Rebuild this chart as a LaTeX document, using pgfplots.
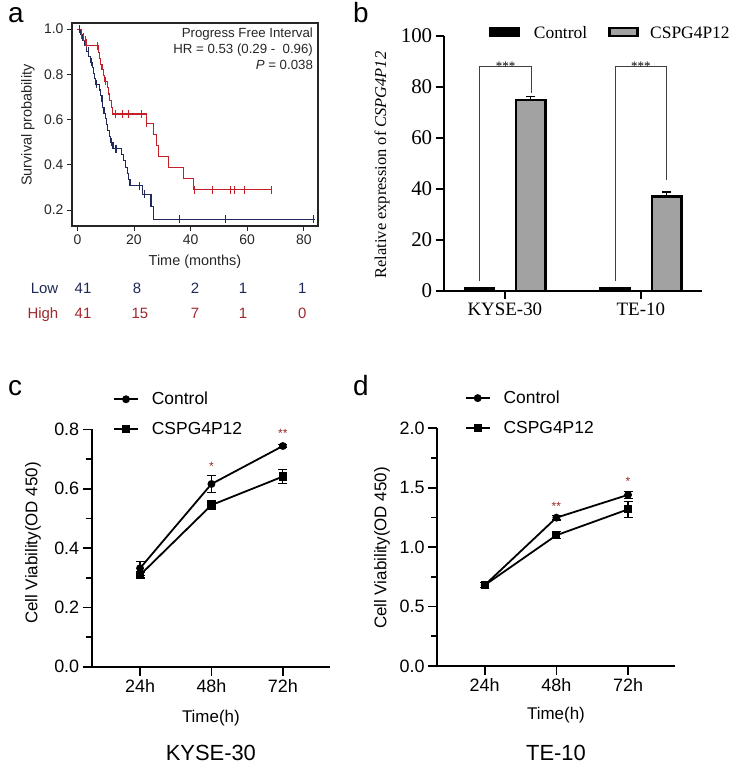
\documentclass[border=0pt]{standalone}
\usepackage{pgfplots}
\pgfplotsset{compat=1.18}
\usepackage{fontspec}
\setmainfont{Liberation Sans}
\newfontfamily\tnr{Liberation Serif}
\definecolor{kmred}{RGB}{196,32,40}
\definecolor{kmblue}{RGB}{32,42,92}
\definecolor{lowtxt}{RGB}{30,40,85}
\definecolor{hightxt}{RGB}{160,40,45}
\definecolor{barfill}{RGB}{162,162,162}
\definecolor{starred}{RGB}{150,35,35}
\newcommand{\fs}[1]{\fontsize{#1}{#1}\selectfont}

\begin{document}
\begin{tikzpicture}[x=1bp,y=1bp]
\path (0,0) rectangle (744,773);

% ---------- a: Kaplan-Meier
\begin{axis}[at={(72bp,547bp)}, anchor=south west, scale only axis,
  width=246bp, height=203bp, clip=false,
  xmin=-1.9, xmax=85, ymin=0.13, ymax=1.027,
  xtick={0,20,40,60,80}, ytick={0.2,0.4,0.6,0.8,1.0},
  yticklabel style={/pgf/number format/.cd,fixed,fixed zerofill,precision=1},
  /pgf/number format/assume math mode=true,
  tick align=outside, tick pos=left, major tick length=5bp,
  axis line style={line width=1.3bp, black!85},
  every tick/.style={black!85, line width=0.9bp},
  tick label style={font=\fs{14}, black!85},
  xlabel={Time (months)}, ylabel={Survival probability},
  label style={font=\fs{14.5}, black!85},
  xlabel style={at={(axis description cs:0.5,-0.177)}, anchor=center},
  ylabel style={at={(axis description cs:-0.179,0.497)}, anchor=center},
]
\addplot[const plot, kmblue, line width=1.1bp] coordinates {
 (0,1.0) (1.2,0.976) (1.8,0.951) (2.5,0.927) (3.2,0.902) (4.0,0.878)
 (4.6,0.854) (5.3,0.829) (5.8,0.805) (6.2,0.780) (6.5,0.756) (7.8,0.731)
 (8.2,0.705) (8.7,0.680) (9.0,0.654) (9.4,0.628) (9.8,0.603) (10.3,0.577)
 (10.7,0.551) (11.2,0.525) (11.8,0.499) (12.6,0.472) (15.5,0.445)
 (16.4,0.418) (17.0,0.390) (17.6,0.363) (18.2,0.335) (18.6,0.308)
 (23.0,0.270) (26.0,0.215) (27.0,0.160) (84,0.160)};
\addplot[only marks, mark=|, mark size=4bp, kmblue, mark options={line width=0.9bp}] coordinates {
 (0.8,1.0) (3.8,0.902) (4.8,0.854) (6.8,0.756) (12.2,0.499) (13.3,0.472)
 (13.9,0.472) (21.9,0.308) (23.7,0.270) (36,0.160) (52.4,0.160) (83.3,0.160)};
\addplot[const plot, kmred, line width=1.1bp] coordinates {
 (0,1.0) (1.5,0.976) (2.2,0.951) (3.0,0.927) (7.5,0.895) (7.8,0.870)
 (8.3,0.845) (8.7,0.820) (9.2,0.795) (9.6,0.770) (10.5,0.742) (11.0,0.713)
 (11.5,0.684) (12.0,0.655) (12.3,0.625) (24.5,0.583) (26.9,0.535)
 (27.8,0.487) (28.6,0.437) (32.2,0.388) (37.5,0.340) (41.0,0.291) (68.5,0.291)};
\addplot[only marks, mark=|, mark size=4bp, kmred, mark options={line width=0.9bp}] coordinates {
 (1.5,0.976) (2.2,0.965) (2.7,0.951) (3.2,0.940) (7.0,0.927) (9.8,0.770)
 (13.3,0.625) (15.8,0.625) (18,0.625) (22.8,0.625) (24.5,0.583)
 (41.3,0.291) (47.8,0.291) (54,0.291) (55.4,0.291) (58.9,0.291) (68.5,0.291)};
\node[anchor=north east, align=right, inner sep=0pt, font=\fontsize{13.3}{16}\selectfont, black!85]
  at (axis description cs:0.98,0.977)
  {Progress Free Interval\\HR = 0.53 (0.29 -\ \ 0.96)\\\textit{P} = 0.038};
\begin{scope}[font=\fs{15}]
\node[lowtxt, anchor=base east] at (axis cs:-5.5,-0.17) {Low};
\node[hightxt, anchor=base east] at (axis cs:-5.5,-0.28) {High};
\node[lowtxt, anchor=base] at (axis cs:2,-0.17) {41};
\node[lowtxt, anchor=base] at (axis cs:21.1,-0.17) {8};
\node[lowtxt, anchor=base] at (axis cs:41.6,-0.17) {2};
\node[lowtxt, anchor=base] at (axis cs:58.5,-0.17) {1};
\node[lowtxt, anchor=base] at (axis cs:79.4,-0.17) {1};
\node[hightxt, anchor=base] at (axis cs:2,-0.28) {41};
\node[hightxt, anchor=base] at (axis cs:22.1,-0.28) {15};
\node[hightxt, anchor=base] at (axis cs:41.6,-0.28) {7};
\node[hightxt, anchor=base] at (axis cs:58.5,-0.28) {1};
\node[hightxt, anchor=base] at (axis cs:79.4,-0.28) {0};
\end{scope}
\end{axis}

% ---------- b: bars
\begin{axis}[at={(443.7bp,482bp)}, anchor=south west, scale only axis,
  width=258.3bp, height=255bp, clip=false,
  xmin=-0.45, xmax=1.45, ymin=0, ymax=100,
  axis x line*=bottom, axis y line*=left,
  axis line style={-, line width=2.2bp},
  ybar, bar width=0.215,
  xtick={0,1}, xticklabels={KYSE-30,TE-10},
  ytick={0,20,40,60,80,100},
  tick align=outside, major tick length=8bp,
  every tick/.style={black, line width=2.2bp},
  xticklabel style={font=\tnr\fs{19}},
  yticklabel style={font=\tnr\fs{21}},
  /pgf/number format/assume math mode=true,
  ylabel={Relative expression of \textit{CSPG4P12}},
  ylabel style={font=\tnr\fs{16.5}, at={(axis description cs:-0.239,0.494)}, anchor=center},
]
\addplot[fill=black, draw=black, line width=2.6bp, bar shift=-0.187,
  error bars/.cd, y dir=plus, y explicit,
  error bar style={line width=1.4bp, black},
  error mark options={rotate=90, mark size=4.5bp, line width=1.4bp, black}]
  coordinates {(0,0.9) +- (0,0.4) (1,0.9) +- (0,0.4)};
\addplot[fill=barfill, draw=black, line width=2.6bp, bar shift=0.19,
  error bars/.cd, y dir=plus, y explicit,
  error bar style={line width=1.4bp, black},
  error mark options={rotate=90, mark size=4.5bp, line width=1.4bp, black}]
  coordinates {(0,74.9) +- (0,1.3) (1,37.0) +- (0,1.8)};
\draw[line width=0.9bp, black!75] (axis cs:-0.187,4) |- (axis cs:0.197,88.2) -- (axis cs:0.197,77.6);
\draw[line width=0.9bp, black!75] (axis cs:0.813,4) |- (axis cs:1.19,88.2) -- (axis cs:1.19,43.5);
\node[font=\tnr\fs{13}, anchor=base] at (axis cs:0.005,86.6) {***};
\node[font=\tnr\fs{13}, anchor=base] at (axis cs:1.0,86.6) {***};
\end{axis}
\fill[black] (488.7,735.7) rectangle (520.3,746.3);
\node[anchor=base west, inner sep=0pt, font=\tnr\fs{17.5}] at (533.7,734.7) {Control};
\draw[fill=barfill, line width=2.5bp] (609.5,737) rectangle (637.5,745);
\node[anchor=base west, inner sep=0pt, font=\tnr\fs{17.5}] at (650,734.7) {CSPG4P12};

% ---------- c: KYSE-30 viability
\begin{axis}[at={(91.7bp,106.3bp)}, anchor=south west, scale only axis,
  width=238.3bp, height=237.3bp, clip=false,
  xmin=0.323, xmax=3.66, ymin=0, ymax=0.8,
  axis x line*=bottom, axis y line*=left, axis line style={-, line width=1.7bp},
  xtick={1,2,3}, xticklabels={24h,48h,72h},
  ytick={0,0.2,0.4,0.6,0.8}, minor y tick num=1,
  yticklabel style={/pgf/number format/.cd,fixed,fixed zerofill,precision=1},
  /pgf/number format/assume math mode=true,
  tick align=outside, major tick length=9bp, minor tick length=6bp,
  every tick/.style={black, line width=1.7bp},
  tick label style={font=\fs{18}},
  xlabel={Time(h)}, ylabel={Cell Viability(OD 450)},
  label style={font=\fs{17}},
  xlabel style={at={(axis description cs:0.5,-0.215)}, anchor=center},
  ylabel style={at={(axis description cs:-0.246,0.521)}, anchor=center},
  legend cell align=left,
  legend style={draw=none, fill=none, at={(axis description cs:0.089,1.0645)}, anchor=west,
    inner xsep=0pt, inner ysep=0pt, row sep=16bp, font=\fs{17.5}, nodes={inner sep=0pt},
    /tikz/every odd column/.append style={column sep=13bp}},
  legend image code/.code={\draw[mark repeat=2,mark phase=2,#1] plot coordinates {(0bp,0bp) (12bp,0bp) (24bp,0bp)};},
]
\addplot[black, line width=1.8bp, mark=*, mark size=3bp,
  error bars/.cd, y dir=both, y explicit, error bar style={line width=1.2bp},
  error mark options={rotate=90, mark size=4.5bp, line width=1.2bp}]
  coordinates {(1,0.332) +- (0,0.024) (2,0.616) +- (0,0.028) (3,0.744) +- (0,0.006)};
\addlegendentry{Control}
\addplot[black, line width=1.8bp, mark=square*, mark size=3.2bp,
  error bars/.cd, y dir=both, y explicit, error bar style={line width=1.2bp},
  error mark options={rotate=90, mark size=4.5bp, line width=1.2bp}]
  coordinates {(1,0.309) +- (0,0.010) (2,0.545) +- (0,0.015) (3,0.641) +- (0,0.024)};
\addlegendentry{CSPG4P12}
\node[font=\fs{12}, starred, anchor=base] at (axis cs:2,0.662) {*};
\node[font=\fs{12}, starred, anchor=base] at (axis cs:3,0.774) {**};
\node[font=\fs{22}] at (axis description cs:0.5,-0.362) {KYSE-30};
\end{axis}

% ---------- d: TE-10 viability
\begin{axis}[at={(437bp,107bp)}, anchor=south west, scale only axis,
  width=238bp, height=237.7bp, clip=false,
  xmin=0.335, xmax=3.655, ymin=0, ymax=2,
  axis x line*=bottom, axis y line*=left, axis line style={-, line width=1.7bp},
  xtick={1,2,3}, xticklabels={24h,48h,72h},
  ytick={0,0.5,1.0,1.5,2.0}, minor y tick num=1,
  yticklabel style={/pgf/number format/.cd,fixed,fixed zerofill,precision=1},
  /pgf/number format/assume math mode=true,
  tick align=outside, major tick length=9bp, minor tick length=6bp,
  every tick/.style={black, line width=1.7bp},
  tick label style={font=\fs{18}},
  xlabel={Time(h)}, ylabel={Cell Viability(OD 450)},
  label style={font=\fs{17}},
  xlabel style={at={(axis description cs:0.5,-0.206)}, anchor=center},
  ylabel style={at={(axis description cs:-0.231,0.496)}, anchor=center},
  legend cell align=left,
  legend style={draw=none, fill=none, at={(axis description cs:0.116,1.0645)}, anchor=west,
    inner xsep=0pt, inner ysep=0pt, row sep=16bp, font=\fs{17.5}, nodes={inner sep=0pt},
    /tikz/every odd column/.append style={column sep=13bp}},
  legend image code/.code={\draw[mark repeat=2,mark phase=2,#1] plot coordinates {(0bp,0bp) (12bp,0bp) (24bp,0bp)};},
]
\addplot[black, line width=1.8bp, mark=*, mark size=3bp,
  error bars/.cd, y dir=both, y explicit, error bar style={line width=1.2bp},
  error mark options={rotate=90, mark size=4.5bp, line width=1.2bp}]
  coordinates {(1,0.68) +- (0,0.02) (2,1.248) +- (0,0.02) (3,1.44) +- (0,0.03)};
\addlegendentry{Control}
\addplot[black, line width=1.8bp, mark=square*, mark size=3.2bp,
  error bars/.cd, y dir=both, y explicit, error bar style={line width=1.2bp},
  error mark options={rotate=90, mark size=4.5bp, line width=1.2bp}]
  coordinates {(1,0.68) +- (0,0.02) (2,1.10) +- (0,0.03) (3,1.318) +- (0,0.066)};
\addlegendentry{CSPG4P12}
\node[font=\fs{12}, starred, anchor=base] at (axis cs:2,1.31) {**};
\node[font=\fs{12}, starred, anchor=base] at (axis cs:3,1.52) {*};
\node[font=\fs{22}] at (axis description cs:0.5,-0.366) {TE-10};
\end{axis}

% panel letters
\begin{scope}[font=\fs{28}]
\node[anchor=base west, inner sep=0pt] at (8,750) {a};
\node[anchor=base west, inner sep=0pt] at (353,750) {b};
\node[anchor=base west, inner sep=0pt] at (8,377) {c};
\node[anchor=base west, inner sep=0pt] at (353,377) {d};
\end{scope}
\end{tikzpicture}
\end{document}
